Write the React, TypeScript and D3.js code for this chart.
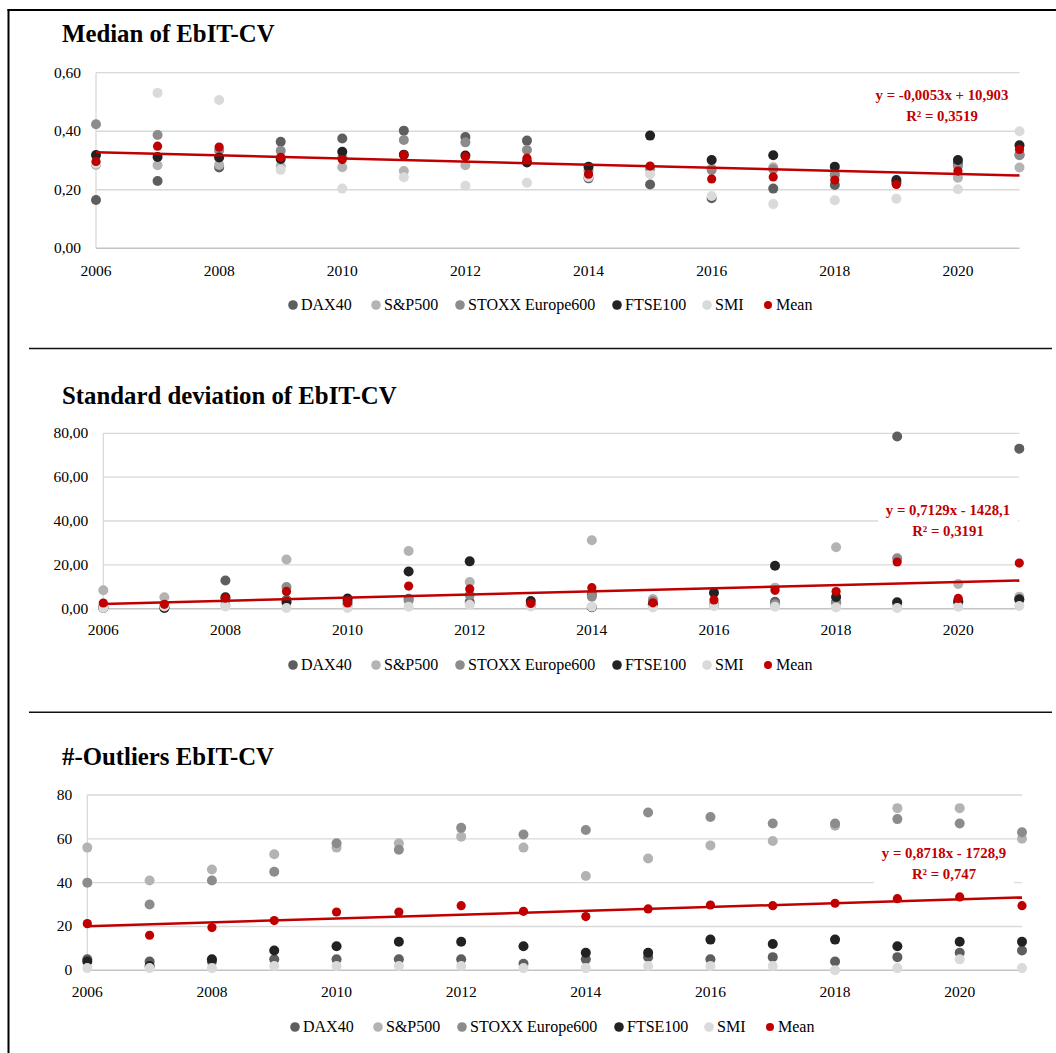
import React from 'react';
import * as d3 from 'd3';

// ---------- data ----------
const years = [2006, 2007, 2008, 2009, 2010, 2011, 2012, 2013, 2014, 2015, 2016, 2017, 2018, 2019, 2020, 2021];
const xTickYears = [2006, 2008, 2010, 2012, 2014, 2016, 2018, 2020];
const seriesNames = ['DAX40', 'S&P500', 'STOXX Europe600', 'FTSE100', 'SMI', 'Mean'];

// Median of EbIT-CV
const medianDAX40 = [0.165, 0.230, 0.276, 0.364, 0.375, 0.402, 0.380, 0.368, 0.239, 0.218, 0.171, 0.204, 0.216, 0.225, 0.290, 0.320];
const medianSP500 = [0.285, 0.284, 0.285, 0.281, 0.277, 0.264, 0.284, 0.300, 0.243, 0.270, 0.273, 0.277, 0.256, 0.222, 0.241, 0.276];
const medianSTOXX = [0.424, 0.387, 0.334, 0.333, 0.310, 0.370, 0.362, 0.336, 0.265, 0.275, 0.268, 0.270, 0.250, 0.225, 0.281, 0.318];
const medianFTSE = [0.319, 0.312, 0.310, 0.305, 0.330, 0.320, 0.317, 0.293, 0.279, 0.385, 0.302, 0.318, 0.279, 0.233, 0.302, 0.352];
const medianSMI = [0.290, 0.531, 0.507, 0.268, 0.204, 0.243, 0.214, 0.224, 0.245, 0.253, 0.179, 0.151, 0.164, 0.169, 0.202, 0.400];
const medianMean = [0.297, 0.349, 0.346, 0.311, 0.303, 0.319, 0.313, 0.308, 0.253, 0.281, 0.237, 0.244, 0.233, 0.218, 0.264, 0.338];
const medianTicks = [0, 0.2, 0.4, 0.6];
const medianEquation = ['y = -0,0053x + 10,903', 'R² = 0,3519'];

// Standard deviation of EbIT-CV
const sdDAX40 = [0.4, 0.5, 12.9, 4.0, 3.5, 4.5, 3.0, 1.5, 6.5, 2.0, 1.5, 3.2, 2.9, 78.5, 3.5, 73.0];
const sdSP500 = [8.4, 5.2, 1.7, 22.4, 1.5, 26.3, 12.2, 1.5, 31.2, 4.4, 1.5, 9.6, 28.0, 2.0, 11.3, 5.5];
const sdSTOXX = [1.0, 1.0, 4.0, 9.9, 2.5, 3.7, 6.2, 1.5, 5.5, 3.5, 2.0, 2.0, 2.9, 23.0, 3.0, 4.0];
const sdFTSE = [0.3, 0.3, 5.2, 2.9, 4.6, 17.0, 21.6, 3.5, 0.7, 2.0, 7.3, 19.6, 5.3, 2.9, 3.2, 4.3];
const sdSMI = [0.3, 1.0, 1.0, 0.3, 0.3, 0.9, 1.8, 1.0, 0.9, 0.6, 1.2, 0.9, 0.6, 0.3, 0.9, 1.2];
const sdMean = [2.6, 2.0, 4.8, 7.9, 2.6, 10.3, 9.0, 2.4, 9.6, 2.7, 4.0, 8.4, 7.8, 21.3, 4.7, 20.8];
const sdTicks = [0, 20, 40, 60, 80];
const sdEquation = ['y = 0,7129x - 1428,1', 'R² = 0,3191'];

// #-Outliers EbIT-CV
const outDAX40 = [5, 4, 4, 5, 5, 5, 5, 3, 5, 6, 5, 6, 4, 6, 8, 9];
const outSP500 = [56, 41, 46, 53, 56, 58, 61, 56, 43, 51, 57, 59, 66, 74, 74, 60];
const outSTOXX = [40, 30, 41, 45, 58, 55, 65, 62, 64, 72, 70, 67, 67, 69, 67, 63];
const outFTSE = [4, 2, 5, 9, 11, 13, 13, 11, 8, 8, 14, 12, 14, 11, 13, 13];
const outSMI = [1, 1, 1, 2, 2, 2, 2, 1, 1, 2, 2, 2, 0, 1, 5, 1];
const outMean = [21.3, 16.0, 19.5, 22.7, 26.6, 26.6, 29.5, 26.9, 24.5, 28.0, 29.8, 29.5, 30.6, 32.7, 33.5, 29.5];
const outTicks = [0, 20, 40, 60, 80];
const outEquation = ['y = 0,8718x - 1728,9', 'R² = 0,747'];

// ---------- styles ----------
const COLORS = ['#5e5e5e', '#b3b3b3', '#8c8c8c', '#222222', '#dadada', '#c00000'];
const FONT = '"Liberation Serif", "Times New Roman", serif';
const RED = '#c00000';
const legendMarkers = [293, 376, 460, 617, 707, 768];

const comma2 = (v: number) => d3.format('.2f')(v).replace('.', ',');
const int0 = (v: number) => d3.format('.0f')(v);

function linReg(xs: number[], ys: number[]) {
  const mx = d3.mean(xs) as number;
  const my = d3.mean(ys) as number;
  let num = 0, den = 0;
  xs.forEach((x, i) => { num += (x - mx) * (ys[i] - my); den += (x - mx) * (x - mx); });
  const b = num / den;
  const a = my - b * mx;
  return (x: number) => a + b * x;
}

type PanelProps = {
  title: string;
  series: number[][];
  ticks: number[];
  fmt: (v: number) => string;
  equation: string[];
  titleY: number;
  x0: number; x1: number; yTop: number; yBottom: number;
  xLabelY: number; legendY: number; legendShift: number;
  eqX: number; eqY: number;
};

function Panel(p: PanelProps) {
  const x = d3.scaleLinear().domain([years[0], years[years.length - 1]]).range([p.x0, p.x1]);
  const y = d3.scaleLinear().domain([p.ticks[0], p.ticks[p.ticks.length - 1]]).range([p.yBottom, p.yTop]);
  const mean = p.series[5];
  const f = linReg(years, mean);
  const trend = d3.line<number>().x((d) => x(d)).y((d) => y(f(d)))([years[0], years[years.length - 1]]) as string;
  return (
    <g>
      <text x={62} y={p.titleY} fontFamily={FONT} fontWeight="bold" fontSize={24.8} fill="#000">{p.title}</text>
      {p.ticks.map((t) => (
        <g key={t}>
          {t !== p.ticks[0] && <line x1={p.x0} x2={p.x1} y1={y(t)} y2={y(t)} stroke="#d9d9d9" strokeWidth={1.3} />}
          <text x={p.x0 - 15} y={y(t) + 5} textAnchor="end" fontFamily={FONT} fontSize={15.5} fill="#000">{p.fmt(t)}</text>
        </g>
      ))}
      <line x1={p.x0} x2={p.x0} y1={p.yTop} y2={p.yBottom} stroke="#d9d9d9" strokeWidth={1.3} />
      <line x1={p.x0} x2={p.x1} y1={p.yBottom} y2={p.yBottom} stroke="#c4c4c4" strokeWidth={1.5} />
      {xTickYears.map((yr) => (
        <text key={yr} x={x(yr)} y={p.xLabelY} textAnchor="middle" fontFamily={FONT} fontSize={15.5} fill="#000">{yr}</text>
      ))}
      {p.series.map((s, si) => (
        <g key={si}>
          {s.map((v, i) => (
            <circle key={i} cx={x(years[i])} cy={y(v)} r={si === 5 ? 4.6 : 5} fill={COLORS[si]} />
          ))}
        </g>
      ))}
      <path d={trend} stroke={RED} strokeWidth={2.5} fill="none" />
      <rect x={p.eqX - 70} y={p.eqY - 16} width={140} height={45} fill="#fff" />
      <text x={p.eqX} y={p.eqY} textAnchor="middle" fontFamily={FONT} fontWeight="bold" fontSize={14.8} fill={RED}>{p.equation[0]}</text>
      <text x={p.eqX} y={p.eqY + 21} textAnchor="middle" fontFamily={FONT} fontWeight="bold" fontSize={14.8} fill={RED}>{p.equation[1]}</text>
      {seriesNames.map((n, i) => (
        <g key={n}>
          <circle cx={legendMarkers[i] + p.legendShift} cy={p.legendY} r={i === 5 ? 4 : 4.8} fill={COLORS[i]} />
          <text x={legendMarkers[i] + p.legendShift + 8} y={p.legendY + 5} fontFamily={FONT} fontSize={16} fill="#000">{n}</text>
        </g>
      ))}
    </g>
  );
}

export default function App() {
  return (
    <svg width={1056} height={1053} style={{ position: 'absolute', left: 0, top: 0, background: '#fff' }}>
      <rect x={0} y={0} width={1056} height={1053} fill="#fff" />
      <line x1={7.5} x2={1056} y1={10} y2={10} stroke="#000" strokeWidth={2} />
      <line x1={8.5} x2={8.5} y1={9} y2={1053} stroke="#000" strokeWidth={2} />
      <line x1={29} x2={1052} y1={348.5} y2={348.5} stroke="#111" strokeWidth={1.5} />
      <line x1={29} x2={1052} y1={712.3} y2={712.3} stroke="#111" strokeWidth={1.5} />
      <Panel
        title="Median of EbIT-CV"
        series={[medianDAX40, medianSP500, medianSTOXX, medianFTSE, medianSMI, medianMean]}
        ticks={medianTicks} fmt={comma2} equation={medianEquation}
        titleY={42} x0={96} x1={1019.5} yTop={72.7} yBottom={248.3}
        xLabelY={276} legendY={305} legendShift={0} eqX={942} eqY={100}
      />
      <Panel
        title="Standard deviation of EbIT-CV"
        series={[sdDAX40, sdSP500, sdSTOXX, sdFTSE, sdSMI, sdMean]}
        ticks={sdTicks} fmt={comma2} equation={sdEquation}
        titleY={404} x0={103.3} x1={1019.3} yTop={433.3} yBottom={608.7}
        xLabelY={635} legendY={665} legendShift={0} eqX={948} eqY={515}
      />
      <Panel
        title="#-Outliers EbIT-CV"
        series={[outDAX40, outSP500, outSTOXX, outFTSE, outSMI, outMean]}
        ticks={outTicks} fmt={int0} equation={outEquation}
        titleY={765} x0={87.3} x1={1022} yTop={795} yBottom={970.3}
        xLabelY={997} legendY={1027} legendShift={2} eqX={944} eqY={858}
      />
    </svg>
  );
}
